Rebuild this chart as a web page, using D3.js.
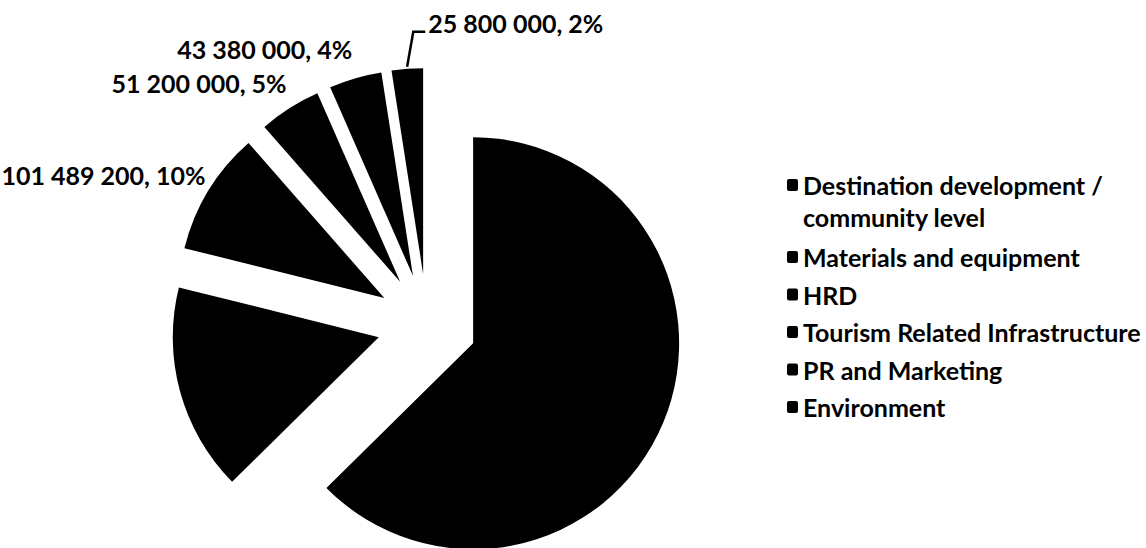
<!DOCTYPE html>
<html>
<head>
<meta charset="utf-8">
<script src="https://cdn.jsdelivr.net/npm/d3@7"></script>
<style>
    body { margin: 0; background: #fff; }
    svg { display: block; }
    text { font-family: Lato, "Open Sans", sans-serif; font-weight: 700; fill: #000; }
</style>
</head>
<body>
<svg id="chart" width="1146" height="548"></svg>
<script>
    // values; the two big slices carry no label in the original
    var categories = ["Destination development / community level", "Materials and equipment", "HRD",
        "Tourism Related Infrastructure", "PR and Marketing", "Environment"];
    var values = [658000000, 171000000, 101489200, 51200000, 43380000, 25800000];
    var showLabel = [false, false, true, true, true, true];
    var leaderLabel = [false, false, false, false, false, true];

    var width = 1146, height = 548;
    var cx = 427, cy = 324, radius = 206, explode = 50;

    var svg = d3.select("#chart");
    var total = d3.sum(values);

    var pie = d3.pie().sort(null).value(function(d){ return d.value; });
    var arc = d3.arc().innerRadius(0).outerRadius(radius);

    var data = categories.map(function(c, i){
        return {name: c, value: values[i], label: showLabel[i], leader: leaderLabel[i]};
    });
    var arcs = pie(data);

    function dirOf(a){
        var m = (a.startAngle + a.endAngle) / 2;
        return [Math.sin(m), -Math.cos(m)];
    }

    var g = svg.append("g").attr("transform", "translate(" + cx + "," + cy + ")");

    g.selectAll("path.slice")
        .data(arcs)
        .enter().append("path")
        .attr("class", "slice")
        .attr("fill", "#000")
        .attr("transform", function(d){
            var u = dirOf(d);
            return "translate(" + (u[0] * explode) + "," + (u[1] * explode) + ")";
        })
        .attr("d", arc);

    // data labels: "101 489 200, 10%"
    var fmt = function(v){ return d3.format(",")(v).replace(/,/g, " "); };
    var labelSize = 25;

    arcs.forEach(function(d){
        if(!d.data.label) return;
        var u = dirOf(d);
        var px = (explode + radius) * u[0];
        var py = (explode + radius) * u[1];
        var txt = fmt(d.data.value) + ", " + Math.round(d.data.value / total * 100) + "%";

        if(d.data.leader){
            var sx = px + u[0] * 2, sy = py + u[1] * 2;
            g.append("path")
                .attr("d", "M" + sx + "," + sy + "L" + (px + 6) + "," + (py - 37) + "L" + (px + 18) + "," + (py - 37))
                .attr("fill", "none")
                .attr("stroke", "#000")
                .attr("stroke-width", 2.5);
            g.append("text")
                .attr("x", px + 21)
                .attr("y", py - 36)
                .style("font-size", labelSize + "px")
                .text(txt);
        } else {
            g.append("text")
                .attr("x", px - 3)
                .attr("y", py + 29 * u[1] + 9)
                .attr("text-anchor", "end")
                .style("font-size", labelSize + "px")
                .text(txt);
        }
    });

    // legend on the right
    var legend = svg.append("g").attr("transform", "translate(787,195)");
    var rowStep = 37.5, wrapLine = 34.5, legendSize = 25;

    categories.forEach(function(c, i){
        var y = i * rowStep + (i > 0 ? wrapLine : 0);
        var lines = c.indexOf(" / ") > -1 ? [c.split(" / ")[0] + " /", c.split(" / ")[1]] : [c];
        legend.append("rect")
            .attr("x", 0)
            .attr("y", y - 16)
            .attr("width", 11)
            .attr("height", 12)
            .attr("rx", 2)
            .attr("fill", "#000");
        var t = legend.append("text")
            .attr("x", 16)
            .attr("y", y)
            .style("font-size", legendSize + "px");
        lines.forEach(function(l, j){
            t.append("tspan")
                .attr("x", 16)
                .attr("dy", j === 0 ? 0 : 32)
                .text(l);
        });
    });
</script>
</body>
</html>
